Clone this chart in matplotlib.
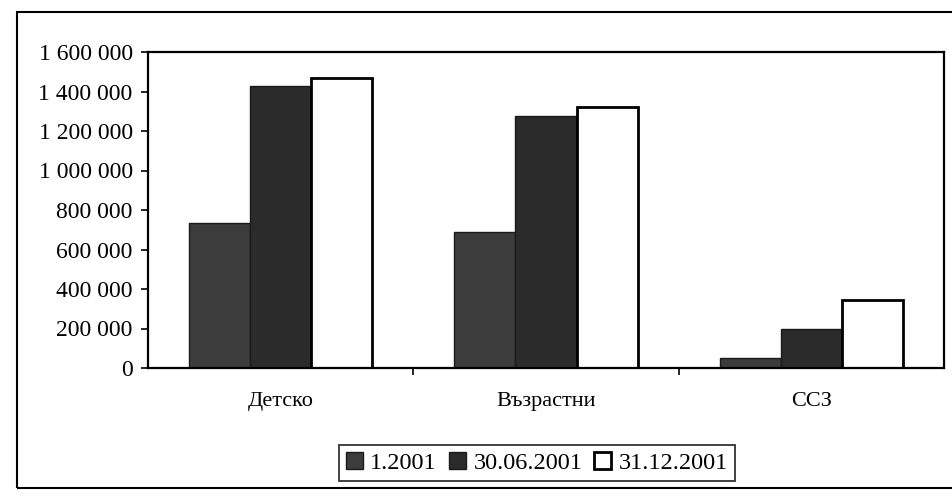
import matplotlib.pyplot as plt
import matplotlib.patches as mpatches
from matplotlib.ticker import FuncFormatter
import numpy as np

categories = ["Детско", "Възрастни", "ССЗ"]
series_labels = ["1.2001", "30.06.2001", "31.12.2001"]
jan_2001 = [735000, 690000, 50000]
jun_2001 = [1430000, 1275000, 195000]
dec_2001 = [1470000, 1320000, 345000]
y_ticks = [0, 200000, 400000, 600000, 800000, 1000000, 1200000, 1400000, 1600000]

plt.rcParams['font.family'] = ['Liberation Serif', 'DejaVu Serif']

W, H = 952, 497
fig = plt.figure(figsize=(W / 100, H / 100), dpi=100)

# outer chart frame
fig.patches.append(mpatches.Rectangle((17 / W, 9 / H), 1.0, (488 - 12) / H,
                                      transform=fig.transFigure, fill=False,
                                      edgecolor='black', linewidth=1.5))

ax = fig.add_axes([148 / W, (H - 368) / H, (944 - 148) / W, (368 - 52) / H])

x = np.arange(len(categories))
w = 0.23
b1 = ax.bar(x - w, jan_2001, w, color='#3c3c3c', edgecolor='#1a1a1a', linewidth=1.0, label=series_labels[0])
b2 = ax.bar(x, jun_2001, w, color='#2b2b2b', edgecolor='#1a1a1a', linewidth=1.0, label=series_labels[1])
b3 = ax.bar(x + w, dec_2001, w, color='white', edgecolor='black', linewidth=2.0, label=series_labels[2])

ax.set_xlim(-0.5, 2.5)
ax.set_ylim(0, 1600000)
ax.set_yticks(y_ticks)
ax.yaxis.set_major_formatter(FuncFormatter(lambda v, p: f"{int(v):,}".replace(",", " ")))
ax.tick_params(axis='y', direction='out', length=5, width=1.2, labelsize=17, pad=6)

# category boundaries as ticks, names centred
ax.set_xticks([0.5, 1.5])
ax.set_xticklabels([])
ax.tick_params(axis='x', which='major', direction='out', length=5, width=1.2)
ax.set_xticks(x, minor=True)
ax.set_xticklabels(categories, minor=True, fontsize=16)
ax.tick_params(axis='x', which='minor', length=0, pad=17)

for s in ax.spines.values():
    s.set_linewidth(1.6)

leg = fig.legend(handles=[b1, b2, b3], labels=series_labels, loc='center',
                 bbox_to_anchor=(537 / W, (H - 463) / H), ncol=3, fontsize=17.5,
                 frameon=True, fancybox=False, edgecolor='black',
                 handlelength=0.7, handleheight=0.7, handletextpad=0.3,
                 columnspacing=0.5, borderpad=0.3)
leg.get_frame().set_linewidth(1.3)

fig.savefig("out.png", dpi=100)
